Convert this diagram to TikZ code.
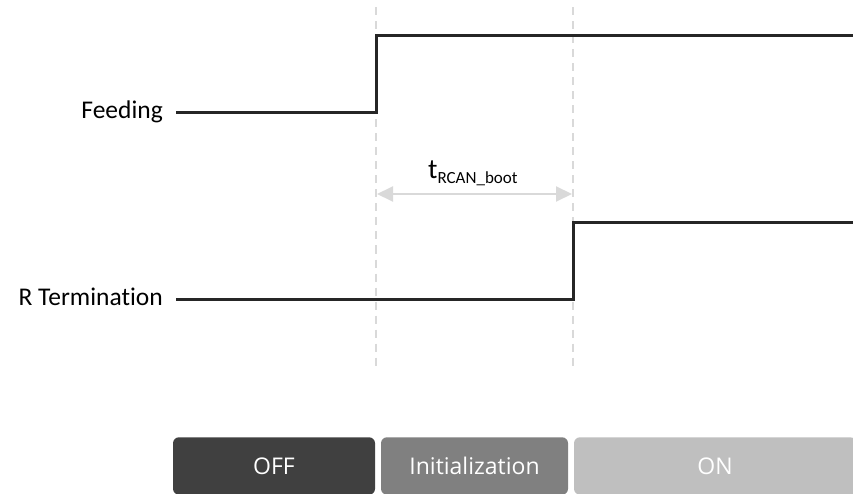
\documentclass[tikz,border=0pt]{standalone}
\usepackage{fontspec}
\setmainfont{Carlito}[Ligatures={NoCommon,NoRare}]
\newfontfamily\boxfont{Open Sans}
\usetikzlibrary{arrows.meta}
\definecolor{sigc}{HTML}{262626}
\definecolor{guide}{HTML}{D9D9D9}
\definecolor{offc}{HTML}{404040}
\definecolor{initc}{HTML}{808080}
\definecolor{onc}{HTML}{BFBFBF}
\begin{document}
\begin{tikzpicture}[x=1pt,y=-1pt,
  signal/.style={draw=sigc,line width=3pt,line join=miter},
  guideline/.style={draw=guide,line width=2pt,dash pattern=on 8pt off 6pt},
  span/.style={draw=guide,line width=2pt,{Triangle[length=16pt,width=15pt]}-{Triangle[length=16pt,width=15pt]}},
  lbl/.style={font=\fontsize{25.5}{30}\selectfont,text=black,inner sep=0pt,anchor=base east},
  phase/.style={rounded corners=6pt,minimum height=57.5pt,inner sep=0pt,text=white,font=\boxfont\fontsize{23}{27}\selectfont}]
\useasboundingbox (0,0) rectangle (853,494);
% guide lines
\coordinate (g1t) at (376,7.5);
\coordinate (g1b) at (376,366);
\coordinate (g2t) at (573,7.5);
\coordinate (g2b) at (573,366);
\draw[guideline] (g1t) -- (g1b);
\draw[guideline] (g2t) -- (g2b);
% labels
\node[lbl] (feed) at (163,119) {Feeding};
\node[lbl] (rterm) at (163,305) {R Termination};
% signals
\coordinate (f0) at (176,113);
\coordinate (f1) at (376,113);
\coordinate (f2) at (376,36);
\coordinate (f3) at (854,36);
\draw[signal] (f0) -- (f1) -- (f2) -- (f3);
\coordinate (r0) at (176,299);
\coordinate (r1) at (573,299);
\coordinate (r2) at (573,222.5);
\coordinate (r3) at (854,222.5);
\draw[signal] (r0) -- (r1) -- (r2) -- (r3);
% timing span
\coordinate (a1) at (377,194);
\coordinate (a2) at (572,194);
\draw[span] (a1) -- (a2);
\node[inner sep=0pt,anchor=base west,font=\fontsize{28}{30}\selectfont] (tlab) at (428,179) {t\raisebox{-5pt}{\fontsize{17}{18}\selectfont RCAN\_boot}};
% phases
\node[phase,fill=offc,minimum width=202pt] (off) at (274,466) {OFF};
\node[phase,fill=initc,minimum width=187pt] (init) at (474.5,466) {Initialization};
\node[phase,fill=onc,minimum width=282pt] (on) at (715,466) {ON};
\end{tikzpicture}
\end{document}
